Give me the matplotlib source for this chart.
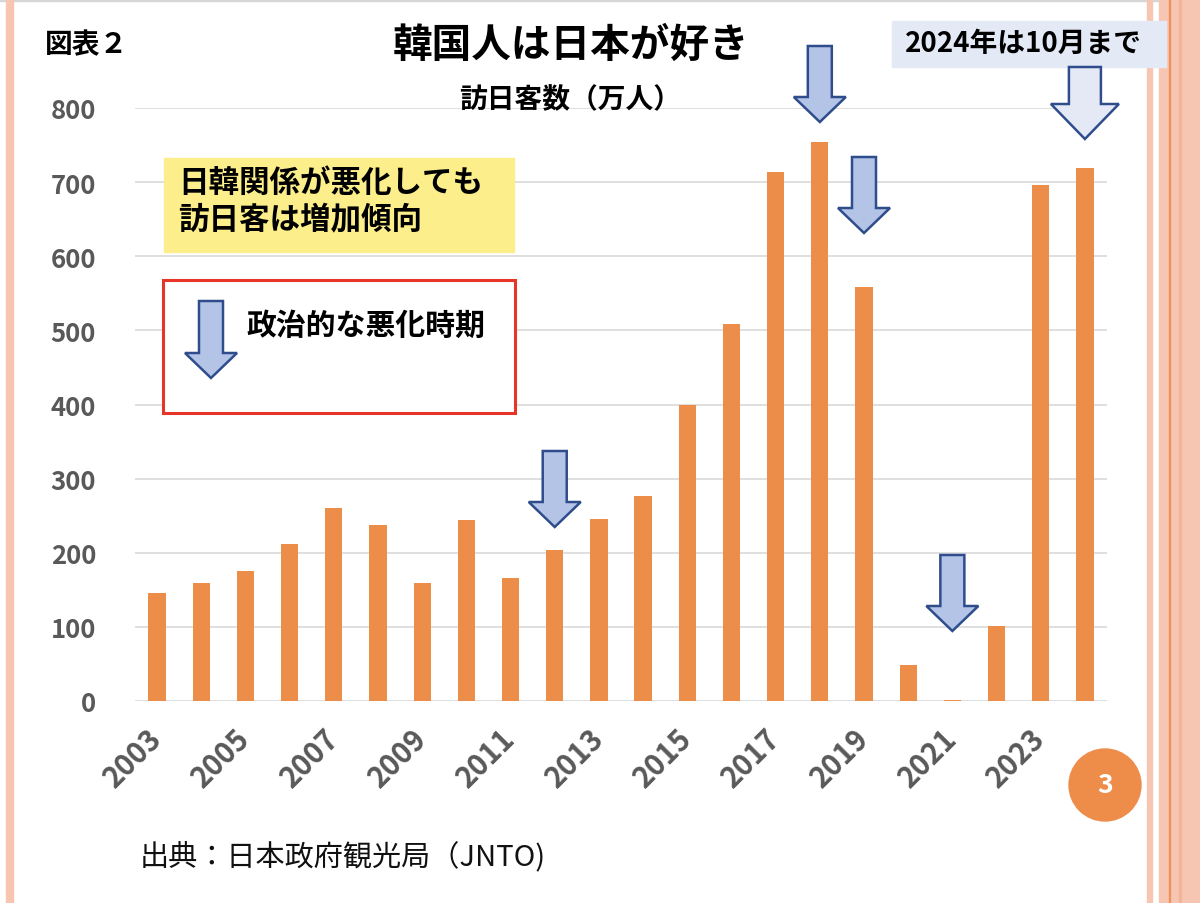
import matplotlib
matplotlib.use('Agg')
import matplotlib.pyplot as plt
from matplotlib.patches import Rectangle, Polygon, Circle
from matplotlib.transforms import Affine2D

# 訪日韓国人客数 (万人), JNTO
years = list(range(2003, 2025))
visitors = [146, 159, 175, 212, 260, 238, 159, 244, 166, 204, 246,
            276, 400, 509, 714, 754, 558, 49, 1.9, 101, 696, 719]
tick_years = list(range(2003, 2025, 2))
y_ticks = [0, 100, 200, 300, 400, 500, 600, 700, 800]
# years with political deterioration (arrows)
bad_years = [2012, 2018, 2019, 2021]

W, H = 1200, 904
plt.rcParams['font.family'] = ['Noto Sans CJK JP', 'DejaVu Sans']

fig = plt.figure(figsize=(W / 100, H / 100), dpi=100)
px = Affine2D().scale(1, -1).translate(0, H)  # pixel coords, origin top-left

ax = fig.add_axes([135 / W, 1 - 702 / H, (1107 - 135) / W, (702 - 109) / H])
x = list(range(len(years)))
ax.bar(x, visitors, width=0.39, color='#ED8D4A', zorder=3)
ax.set_xlim(-0.5, len(years) - 0.5)
ax.set_ylim(0, 800)
ax.set_yticks(y_ticks)
ax.set_yticklabels([str(v) for v in y_ticks], fontsize=18.5, fontweight='bold', color='#595959')
ax.set_xticks([years.index(y) for y in tick_years])
ax.set_xticklabels([str(y) for y in tick_years], fontsize=21, fontweight='bold', color='#595959',
                   rotation=45, ha='right', va='center', rotation_mode='anchor')
ax.tick_params(axis='y', length=0, pad=28)
ax.tick_params(axis='x', length=0, pad=23)
ax.grid(axis='y', color='#D9D9D9', linewidth=1.2, zorder=0)
for s in ax.spines.values():
    s.set_visible(False)

# slide decoration
fig.add_artist(Rectangle((0, 0), W, 2, transform=px, color='#D6D6D6'))
fig.add_artist(Rectangle((6, 0), 1.5, H, transform=px, color='#F7C6B2'))
fig.add_artist(Rectangle((9, 0), 4, H, transform=px, color='#F7C6B2'))
fig.add_artist(Rectangle((1147, 0), 5, H, transform=px, color='#F7C6B2'))
fig.add_artist(Rectangle((1159, 0), 41, H, transform=px, color='#F7C6B2'))
fig.add_artist(Rectangle((1168.5, 0), 1.5, H, transform=px, color='#EE935F'))
fig.add_artist(Rectangle((1179, 0), 1.5, H, transform=px, color='#F3B597'))


def bar_cx(year):
    xd, _ = ax.transData.transform((years.index(year), 0))
    return xd


def down_arrow(cx, top, head_top, tip, shaft_w=24, head_w=52, face='#B4C4E6'):
    pts = [(cx - shaft_w / 2, top), (cx + shaft_w / 2, top), (cx + shaft_w / 2, head_top),
           (cx + head_w / 2, head_top), (cx, tip), (cx - head_w / 2, head_top),
           (cx - shaft_w / 2, head_top)]
    fig.add_artist(Polygon(pts, closed=True, transform=px, facecolor=face,
                           edgecolor='#2F4D8C', linewidth=1.8, zorder=5))


arrow_tops = {2012: 452, 2018: 47, 2019: 158, 2021: 556}
for yr in bad_years:
    t = arrow_tops[yr]
    down_arrow(bar_cx(yr), t, t + 51, t + 76)
down_arrow(bar_cx(2024), 68, 105, 140, shaft_w=32, head_w=68, face='#E4E9F5')

# titles
fig.text(45, 45, '図表２', transform=px, fontsize=20, fontweight='bold', va='center', ha='left')
fig.text(571, 45, '韓国人は日本が好き', transform=px, fontsize=28.5, fontweight='bold',
         va='center', ha='center')
fig.text(570, 100, '訪日客数（万人）', transform=px, fontsize=20, fontweight='bold',
         va='center', ha='center')

# yellow note
fig.add_artist(Rectangle((164, 159), 350, 94, transform=px, color='#FCEE8A', zorder=4))
fig.text(178, 201, '日韓関係が悪化しても\n訪日客は増加傾向', transform=px, fontsize=22,
         fontweight='bold', va='center', ha='left', linespacing=1.15, zorder=6)

# red legend box
fig.add_artist(Rectangle((163, 281), 352, 133, transform=px, facecolor='white',
                         edgecolor='#E8352A', linewidth=2.2, zorder=4))
down_arrow(211, 302, 354, 379)
fig.text(246, 326, '政治的な悪化時期', transform=px, fontsize=21.5, fontweight='bold',
         va='center', ha='left', zorder=6)

# 2024 note
fig.add_artist(Rectangle((892, 22), 274, 46, transform=px, color='#E3E9F5', zorder=4))
fig.text(1023, 44, '2024年は10月まで', transform=px, fontsize=20, fontweight='bold',
         va='center', ha='center', zorder=6)

# page number
fig.add_artist(Circle((1105, 786), 36, transform=px, color='#EE8C4A', zorder=4))
fig.text(1105, 786, '3', transform=px, fontsize=19, fontweight='bold', color='white',
         va='center', ha='center', zorder=6)

# source
fig.text(140, 857, '出典：日本政府観光局（JNTO)', transform=px, fontsize=21,
         va='center', ha='left', color='#111111')

fig.savefig('out.png', dpi=100)
